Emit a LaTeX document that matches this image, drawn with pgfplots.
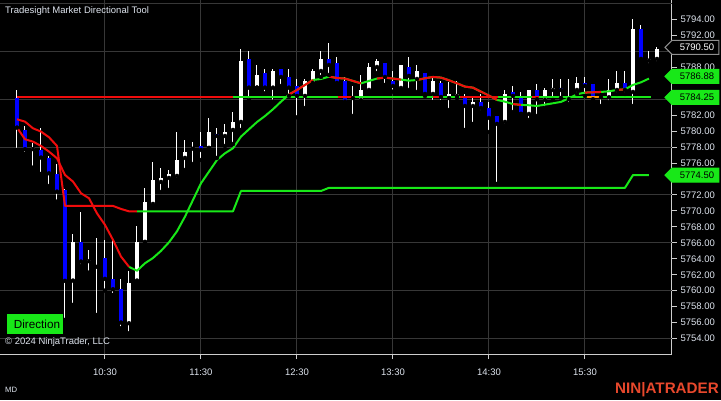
\documentclass[border=0pt]{standalone}
\usepackage{pgfplots}
\pgfplotsset{compat=1.18}
\usepackage{pgfplotstable}
\usepackage{fontspec}
\setmainfont{Liberation Sans}

\definecolor{ntgrid}{RGB}{55,55,55}
\definecolor{ntaxis}{RGB}{205,205,205}
\definecolor{nttext}{RGB}{222,228,238}
\definecolor{ntred}{RGB}{240,12,12}
\definecolor{ntgreen}{RGB}{24,232,24}
\definecolor{ntorange}{RGB}{255,150,0}
\definecolor{ntblue}{RGB}{0,0,255}
\definecolor{ntlogo}{RGB}{232,72,44}

% 5-minute bars, index 0 = 9:35
\pgfplotstableread{
i o h l c
2 5777.75 5778.57 5775.43 5777.95
7 5761.27 5767.12 5758.22 5766.07
9 5763.70 5765.11 5762.27 5763.90
10 5763.00 5766.57 5756.96 5763.15
14 5755.92 5762.52 5754.67 5760.93
15 5761.27 5768.12 5761.02 5766.11
16 5766.11 5772.88 5766.11 5771.13
17 5770.88 5776.14 5770.63 5773.89
18 5773.64 5775.39 5772.38 5774.14
19 5774.14 5775.14 5772.63 5774.64
20 5774.39 5779.90 5773.89 5776.39
21 5776.65 5778.90 5775.14 5777.40
22 5777.80 5778.65 5775.89 5777.95
24 5777.90 5781.66 5777.90 5779.90
26 5779.40 5780.90 5778.15 5779.90
27 5780.16 5782.41 5778.40 5781.16
28 5781.16 5790.31 5780.16 5788.81
30 5785.46 5788.30 5785.46 5787.05
32 5785.46 5787.80 5783.70 5787.55
36 5784.42 5786.55 5782.91 5786.30
37 5786.05 5787.80 5785.92 5787.55
38 5787.55 5790.06 5786.80 5789.06
42 5784.15 5785.67 5781.91 5784.30
43 5783.90 5787.05 5783.67 5785.17
44 5785.17 5788.55 5784.92 5788.05
45 5788.05 5789.06 5787.30 5788.80
48 5785.42 5788.30 5785.17 5788.30
50 5786.55 5788.30 5784.92 5787.55
52 5784.67 5786.80 5783.67 5786.30
54 5784.15 5786.17 5782.66 5784.67
55 5784.42 5786.30 5784.15 5784.67
57 5783.16 5784.42 5780.91 5783.66
61 5781.16 5785.17 5780.66 5784.67
64 5782.16 5785.17 5781.41 5785.17
66 5783.92 5785.42 5782.91 5785.17
67 5785.17 5786.55 5783.92 5785.42
69 5784.00 5786.55 5783.41 5784.15
70 5785.17 5786.80 5784.67 5786.05
74 5784.25 5786.55 5783.66 5785.17
75 5785.17 5787.55 5784.67 5786.05
77 5784.92 5794.07 5783.16 5792.82
79 5788.85 5790.06 5788.30 5789.06
80 5789.06 5790.56 5788.55 5790.31
}\upbars

\pgfplotstableread{
i o h l c
0 5784.13 5785.17 5777.65 5780.45
1 5780.16 5780.66 5777.15 5777.73
3 5777.65 5780.36 5774.64 5776.69
4 5776.60 5776.90 5773.13 5774.72
5 5774.64 5775.89 5771.17 5772.42
6 5772.63 5772.70 5756.34 5761.23
8 5766.07 5769.83 5763.10 5763.65
11 5764.07 5766.37 5760.01 5761.48
12 5761.43 5766.37 5759.47 5760.18
13 5760.18 5761.43 5755.29 5756.00
23 5778.15 5779.90 5776.39 5777.65
25 5779.60 5780.40 5776.65 5779.40
29 5789.06 5790.06 5783.90 5785.46
31 5787.30 5787.80 5784.75 5785.46
33 5787.80 5787.80 5785.67 5786.80
34 5786.80 5787.80 5784.42 5785.46
35 5785.67 5786.55 5781.74 5784.42
39 5789.06 5791.06 5787.05 5788.30
40 5788.55 5789.30 5785.92 5786.05
41 5786.30 5786.80 5783.41 5783.70
46 5788.55 5788.55 5785.80 5786.80
47 5786.30 5787.55 5784.96 5785.67
49 5788.05 5789.30 5785.17 5786.93
51 5787.30 5787.30 5784.42 5784.67
53 5786.05 5786.30 5783.67 5784.29
56 5784.15 5784.67 5780.16 5783.16
58 5783.66 5784.67 5782.41 5782.91
59 5782.91 5783.67 5779.90 5781.66
60 5781.91 5781.91 5773.39 5780.91
62 5784.92 5785.67 5782.41 5784.42
63 5784.15 5784.92 5782.16 5782.16
65 5785.17 5785.92 5781.91 5784.00
68 5785.42 5786.55 5784.17 5785.17
71 5786.05 5786.80 5784.42 5785.67
72 5785.92 5785.92 5783.92 5784.00
73 5784.40 5784.40 5783.16 5784.25
76 5786.05 5787.55 5784.67 5785.17
78 5792.82 5793.32 5788.80 5789.06
}\dnbars

% directional moving average
\pgfplotstableread{
i v
0 5780.45
1 5778.99
2 5778.69
3 5778.15
4 5777.44
5 5776.60
6 5774.51
7 5773.68
8 5772.22
9 5771.59
10 5769.70
11 5768.25
12 5766.37
13 5764.28
14 5763.00
15 5762.50
16 5763.44
17 5764.10
18 5764.99
19 5766.07
20 5767.45
21 5769.29
22 5771.38
23 5773.47
24 5774.93
25 5776.39
26 5777.23
27 5777.86
28 5779.32
29 5780.24
30 5781.15
31 5781.90
32 5782.75
33 5783.70
34 5784.60
35 5785.17
36 5785.80
37 5786.42
38 5786.55
39 5786.84
40 5786.67
41 5786.60
42 5786.30
43 5786.00
44 5786.30
45 5786.60
46 5786.72
47 5786.60
48 5786.47
49 5786.34
50 5786.42
51 5786.63
52 5786.80
53 5786.72
54 5786.38
55 5786.00
56 5785.59
57 5785.46
58 5784.96
59 5784.46
60 5783.92
61 5783.70
62 5783.40
63 5783.30
64 5783.25
65 5783.16
66 5783.33
67 5783.50
68 5783.67
69 5784.13
70 5784.63
71 5784.84
72 5784.88
73 5784.92
74 5785.00
75 5785.17
76 5785.25
77 5785.80
78 5786.13
79 5786.60
}\ma

% stop line
\pgfplotstableread{
i v
0 5781.49
1 5781.20
2 5780.36
3 5779.95
4 5779.24
5 5778.15
6 5770.63
12 5770.63
13 5770.25
14 5769.95
15 5769.95
27 5769.95
28 5772.50
38 5772.50
39 5772.90
76 5772.90
77 5774.50
79 5774.50
}\stopline

\newcommand{\pricetag}[5]{%
  \filldraw[shift={(#1)}, fill=#2, draw=#3, line width=1pt]
    (-7,0) -- (0,7) -- (47,7) -- (47,-7) -- (0,-7) -- cycle;
  \path (#1) ++(25,0) node[text=#4, font=\fontsize{9.5}{11}\selectfont, inner sep=0pt] {#5};}

\begin{document}
\begin{tikzpicture}[x=1pt,y=1pt]
\useasboundingbox (0,0) rectangle (721,400);
\fill[black] (0,0) rectangle (721,400);

\begin{axis}[
  at={(0pt,400pt)}, anchor=north west,
  scale only axis, width=672pt, height=354pt,
  xmin=-2.125, xmax=81.875, ymin=5752.06, ymax=5796.45,
  separate axis lines,
  axis x line*=bottom, axis y line*=right,
  axis line style={-, draw=ntaxis, line width=1pt},
  xtick={11,23,35,47,59,71},
  xticklabels={10:30,11:30,12:30,13:30,14:30,15:30},
  ytick={5754,5756,5758,5760,5762,5764,5766,5768,5770,5772,5776,5778,5780,5782,5788,5792,5794},
  xtick pos=bottom, ytick pos=right, yticklabel pos=right,
  tick align=outside, major tick length=5pt,
  tick style={draw=ntaxis, line width=1pt},
  xmajorgrids,
  extra y ticks={5754,5760,...,5796},
  extra y tick labels={},
  extra y tick style={grid=major, major tick length=0pt},
  grid style={draw=ntgrid, line width=1pt},
  /pgf/number format/assume math mode=true,
  ticklabel style={font=\fontsize{9.5}{11}\selectfont, text=nttext},
  yticklabel style={/pgf/number format/.cd, fixed, fixed zerofill, precision=2, 1000 sep={}},
  xticklabel style={yshift=-6pt},
]

% wicks
\addplot[only marks, mark=none, error bars/.cd, y dir=plus, y explicit,
  error mark=none, error bar style={draw=white, line width=1pt}]
  table[x=i, y=l, y error plus expr=\thisrow{h}-\thisrow{l}] {\upbars};
\addplot[only marks, mark=none, error bars/.cd, y dir=plus, y explicit,
  error mark=none, error bar style={draw=white, line width=1pt}]
  table[x=i, y=l, y error plus expr=\thisrow{h}-\thisrow{l}] {\dnbars};
% bodies
\addplot[only marks, mark=none, error bars/.cd, y dir=plus, y explicit,
  error mark=none, error bar style={draw=white, line width=4.6pt}]
  table[x=i, y=o, y error plus expr=\thisrow{c}-\thisrow{o}] {\upbars};
\addplot[only marks, mark=none, error bars/.cd, y dir=plus, y explicit,
  error mark=none, error bar style={draw=ntblue, line width=4.6pt}]
  table[x=i, y=c, y error plus expr=\thisrow{o}-\thisrow{c}] {\dnbars};

% level line
\addplot[ntgreen, line width=2pt] coordinates {(0,5784.25) (79.25,5784.25)};
\addplot[ntred, line width=2pt] coordinates {(0,5784.25) (27,5784.25)};
\addplot[ntred, line width=2pt] coordinates {(40.1,5784.25) (42,5784.25)};
\addplot[ntred, line width=2pt] coordinates {(52,5784.25) (53.3,5784.25)};
\addplot[ntred, line width=2pt] coordinates {(55.4,5784.25) (60.1,5784.25)};
\addplot[ntred, line width=2pt] coordinates {(64.4,5784.25) (65.3,5784.25)};
\addplot[ntorange, line width=2pt] coordinates {(71.25,5784.25) (73.2,5784.25)};

% stop line
\addplot[ntgreen, line width=2pt, line join=round, restrict x to domain=15:79] table[x=i, y=v] {\stopline};
\addplot[ntred, line width=2pt, line join=round, restrict x to domain=0:15] table[x=i, y=v] {\stopline};

% moving average
\addplot[ntgreen, line width=2pt, line join=round, restrict x to domain=14:79] table[x=i, y=v] {\ma};
\addplot[ntred, line width=2pt, line join=round, restrict x to domain=0:14] table[x=i, y=v] {\ma};
\addplot[ntred, line width=2pt, line join=round, restrict x to domain=34:37] table[x=i, y=v] {\ma};
\addplot[ntred, line width=2pt, line join=round, restrict x to domain=39:43] table[x=i, y=v] {\ma};
\addplot[ntred, line width=2pt, line join=round, restrict x to domain=45:48] table[x=i, y=v] {\ma};
\addplot[ntred, line width=2pt, line join=round, restrict x to domain=50:60] table[x=i, y=v] {\ma};
\addplot[ntred, line width=2pt, line join=round, restrict x to domain=62:63] table[x=i, y=v] {\ma};
\addplot[ntred, line width=2pt, line join=round, restrict x to domain=71:73] table[x=i, y=v] {\ma};
\addplot[ntred, line width=2pt, line join=round, restrict x to domain=75:76] table[x=i, y=v] {\ma};

\coordinate (pLast) at (axis cs:81.875,5790.50);
\coordinate (pMA) at (axis cs:81.875,5786.88);
\coordinate (pLev) at (axis cs:81.875,5784.25);
\coordinate (pStop) at (axis cs:81.875,5774.50);
\end{axis}

\pricetag{pLast}{black}{ntaxis!70!black}{white}{5790.50}
\pricetag{pMA}{ntgreen}{ntgreen}{black}{5786.88}
\pricetag{pLev}{ntgreen}{ntgreen}{black}{5784.25}
\pricetag{pStop}{ntgreen}{ntgreen}{black}{5774.50}

\node[anchor=west, text=nttext, font=\fontsize{9.5}{11}\selectfont, inner sep=0pt] at (5,389) {Tradesight Market Directional Tool};
\fill[ntgreen] (7,66) rectangle (63,86);
\node[text=black, font=\fontsize{11.7}{13}\selectfont, inner sep=0pt] at (37,76) {Direction};
\node[anchor=west, text=nttext, font=\fontsize{9.5}{11}\selectfont, inner sep=0pt] at (5,58) {© 2024 NinjaTrader, LLC};
\node[anchor=west, text=nttext, font=\fontsize{7.7}{9}\selectfont, inner sep=0pt] at (5,10) {MD};
\node[anchor=east, text=ntlogo, font=\bfseries\fontsize{15.2}{17}\selectfont, inner sep=0pt] at (719,10) {NIN|ATRADER};
\end{tikzpicture}
\end{document}
